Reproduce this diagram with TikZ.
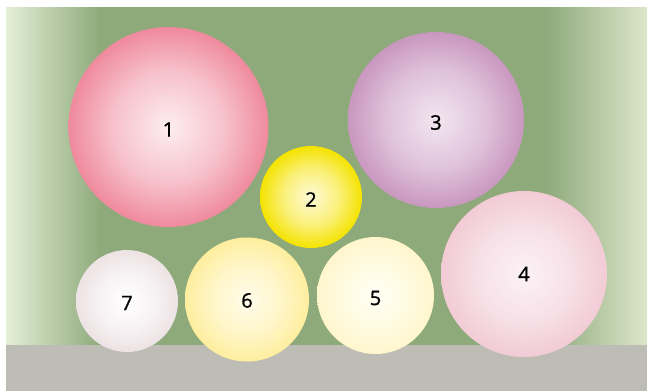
\documentclass[tikz,border=0pt]{standalone}
\usepackage{fontspec}
\setmainfont{Open Sans}[FakeBold=1]
\usetikzlibrary{calc}
\definecolor{bedgreen}{HTML}{8EAA7B}
\definecolor{bedlight}{HTML}{E3EFD6}
\definecolor{bedlightr}{HTML}{DCE6CB}
\definecolor{pathgray}{HTML}{BDBDB6}
\definecolor{in1}{HTML}{FDEEF1}\definecolor{out1}{HTML}{EF8A9D}
\definecolor{in2}{HTML}{FFFAD8}\definecolor{out2}{HTML}{F4E300}
\definecolor{in3}{HTML}{F2E6F1}\definecolor{out3}{HTML}{C997BF}
\definecolor{in4}{HTML}{FBF2F6}\definecolor{out4}{HTML}{F2CBD5}
\definecolor{in5}{HTML}{FFFFF4}\definecolor{out5}{HTML}{FFF6CC}
\definecolor{in6}{HTML}{FFFCEA}\definecolor{out6}{HTML}{FFEE9E}
\definecolor{in7}{HTML}{FFFFFF}\definecolor{out7}{HTML}{EDE2E4}
\colorlet{plantin}{white}\colorlet{plantout}{gray}
\pgfdeclareradialshading[plantin,plantout]{plantshade}{\pgfpoint{0bp}{0bp}}{%
  color(0bp)=(plantin); color(14bp)=(plantin!55!plantout);
  color(25bp)=(plantout); color(50bp)=(plantout)}
\tikzset{
  plant/.style={circle,inner sep=0pt,shading=plantshade},
  plantno/.style={font=\fontsize{20}{24}\selectfont},
}
\newcommand{\PlantNode}[5][-2.5pt]{\colorlet{plantin}{in#2}\colorlet{plantout}{out#2}%
  \node[plant,minimum size=#5pt,label={[plantno,yshift=#1]center:#2}] (p#2) at (#3,#4) {};}

\begin{document}
\begin{tikzpicture}[x=1pt,y=-1pt]
\useasboundingbox (0,0) rectangle (647,391);
% bed
\fill[bedgreen] (100,7) rectangle (546,346);
\shade[left color=bedlight,right color=bedgreen] (6,7) rectangle (100.5,346);
\shade[left color=bedgreen,right color=bedlightr] (545.5,7) rectangle (647,346);
% path
\fill[pathgray] (6,345) rectangle (647,391);

\PlantNode{1}{168.5}{127}{200}
\PlantNode{3}{436}{120}{176}
\PlantNode{2}{311}{197}{102}
\PlantNode[0pt]{4}{524}{274}{166}
\PlantNode{5}{375.5}{295.5}{117}
\PlantNode[-1pt]{6}{247}{299.5}{124}
\PlantNode[-2pt]{7}{127}{301}{102}
\end{tikzpicture}
\end{document}
